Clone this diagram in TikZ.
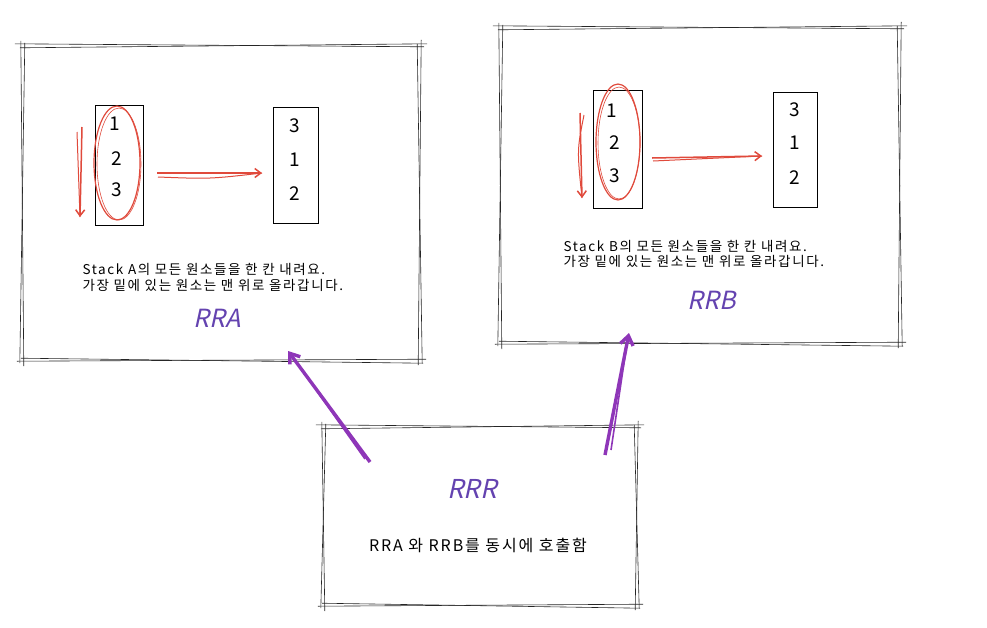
\documentclass[tikz,border=0pt]{standalone}
\usepackage{fontspec}
\setmainfont{Noto Sans CJK KR}
\newfontfamily\krwide[LetterSpace=12]{Noto Sans CJK KR}
\newfontfamily\krwider[LetterSpace=12]{Noto Sans CJK KR}
\newfontfamily\krslant[FakeSlant=0.22]{Noto Sans CJK KR}
\usetikzlibrary{arrows.meta,calc}
\definecolor{sred}{HTML}{E04A3C}
\definecolor{spurple}{HTML}{8E36B8}
\definecolor{tpurple}{HTML}{6443B0}
\tikzset{
  frame/.style={draw=none,minimum width=#1},
  skline/.style={draw=black!85,line width=0.6pt},
  stackbox/.style={draw=black,line width=0.8pt,inner sep=0pt},
  num/.style={font=\fontsize{19}{19}\selectfont},
  desc/.style={font=\krwide\fontsize{13.5}{15.5}\selectfont,align=left,anchor=west},
  title/.style={font=\krslant\fontsize{25}{25}\selectfont,text=tpurple},
  redarrow/.style={draw=sred,line width=1.5pt,-{Straight Barb[length=6pt,width=9pt]}},
  purplearrow/.style={draw=spurple,line width=3.4pt,-{Straight Barb[length=9pt,width=13pt]}},
}
\newcommand\skbox[1]{%
  \draw[skline] ($(#1.north west)+(-7,-1)$) -- ($(#1.north east)+(4,2)$);
  \draw[skline] ($(#1.north west)+(-2,3)$) -- ($(#1.north east)+(7,-1)$);
  \draw[skline] ($(#1.south west)+(-5,1)$) -- ($(#1.south east)+(6,-1)$);
  \draw[skline] ($(#1.south west)+(-1,-2)$) -- ($(#1.south east)+(3,3)$);
  \draw[skline] ($(#1.north west)+(-1,-4)$) -- ($(#1.south west)+(2,6)$);
  \draw[skline] ($(#1.north west)+(3,-2)$) -- ($(#1.south west)+(-2,3)$);
  \draw[skline] ($(#1.north east)+(1,-5)$) -- ($(#1.south east)+(-2,5)$);
  \draw[skline] ($(#1.north east)+(-3,-1)$) -- ($(#1.south east)+(2,3)$);
}
\begin{document}
\begin{tikzpicture}[x=1pt,y=-1pt]
\useasboundingbox[fill=white] (0,0) rectangle (987,627);

% frames
\node[frame=398pt,minimum height=315pt] (A) at (221,202.5) {};
\node[frame=400pt,minimum height=316pt] (B) at (700,185) {};
\node[frame=314pt,minimum height=179pt] (C) at (480,515.5) {};
\skbox{A}\skbox{B}\skbox{C}

% ---------- RRA ----------
\node[stackbox,minimum width=48pt,minimum height=120pt] (A1) at (119,165) {};
\node[num] (a11) at (115,124) {1};
\node[num] (a12) at (117,159) {2};
\node[num] (a13) at (117,190) {3};
\draw[sred,line width=1.2pt] (117,163) ellipse [x radius=23, y radius=57];
\draw[sred,line width=0.6pt] (119,164) ellipse [x radius=22, y radius=56];
\node[stackbox,minimum width=45pt,minimum height=116pt] (A2) at (295.5,165) {};
\node[num] (a21) at (295,126) {3};
\node[num] (a22) at (295,160) {1};
\node[num] (a23) at (295,194) {2};
\coordinate (ad1) at (82,127);
\coordinate (ad2) at (80,217);
\coordinate (ad3) at (77,132);
\draw[redarrow] (ad1) -- (ad2);
\draw[sred,line width=1pt] (ad3) -- (ad2);
\coordinate (ar1) at (157,173);
\coordinate (ar2) at (262,173);
\coordinate (ar3) at (158,177);
\draw[redarrow] (ar1) -- (ar2);
\draw[sred,line width=1pt] (ar3) .. controls (210,179) .. (ar2);
\node[desc] (ta) at (79,277.5) {Stack A의 모든 원소들을 한 칸 내려요.\\가장 밑에 있는 원소는 맨 위로 올라갑니다.};
\node[title] (rra) at (217,318) {RRA};

% ---------- RRB ----------
\node[stackbox,minimum width=49pt,minimum height=118pt] (B1) at (617.5,149) {};
\node[num] (b11) at (612,111) {1};
\node[num] (b12) at (615,143) {2};
\node[num] (b13) at (615,176) {3};
\draw[sred,line width=1.2pt] (618,142) ellipse [x radius=22, y radius=58];
\draw[sred,line width=0.6pt] (619,143) ellipse [x radius=21, y radius=56];
\node[stackbox,minimum width=44pt,minimum height=115pt] (B2) at (795,149.5) {};
\node[num] (b21) at (795,110) {3};
\node[num] (b22) at (795,143) {1};
\node[num] (b23) at (795,178) {2};
\coordinate (bd1) at (580,113);
\coordinate (bd2) at (582,198);
\coordinate (bd3) at (584,115);
\draw[redarrow] (bd1) -- (bd2);
\draw[sred,line width=1pt] (bd3) .. controls (577,150) .. (bd2);
\coordinate (br1) at (652,158);
\coordinate (br2) at (762,156);
\coordinate (br3) at (653,161);
\draw[redarrow] (br1) -- (br2);
\draw[sred,line width=1pt] (br3) -- (br2);
\node[desc] (tb) at (560,254) {Stack B의 모든 원소들을 한 칸 내려요.\\가장 밑에 있는 원소는 맨 위로 올라갑니다.};
\node[title] (rrb) at (712,300) {RRB};

% ---------- RRR ----------
\node[title,font=\krslant\fontsize{26}{26}\selectfont] (rrr) at (472,489) {RRR};
\node[font=\krwider\fontsize{16}{16}\selectfont] (tc) at (478,545) {RRA 와 RRB를 동시에 호출함};

% purple connectors
\coordinate (p1s) at (370,462);
\coordinate (p1e) at (288,351);
\coordinate (p1s2) at (365,459);
\draw[purplearrow] (p1s) -- (p1e);
\draw[spurple,line width=1.6pt] (p1s2) -- ($(p1e)+(2,2)$);
\coordinate (p2s) at (605,455);
\coordinate (p2e) at (629,333);
\coordinate (p2s2) at (611,450);
\draw[purplearrow] (p2s) -- (p2e);
\draw[spurple,line width=1.6pt] (p2s2) -- ($(p2e)+(-1,3)$);
\end{tikzpicture}
\end{document}
